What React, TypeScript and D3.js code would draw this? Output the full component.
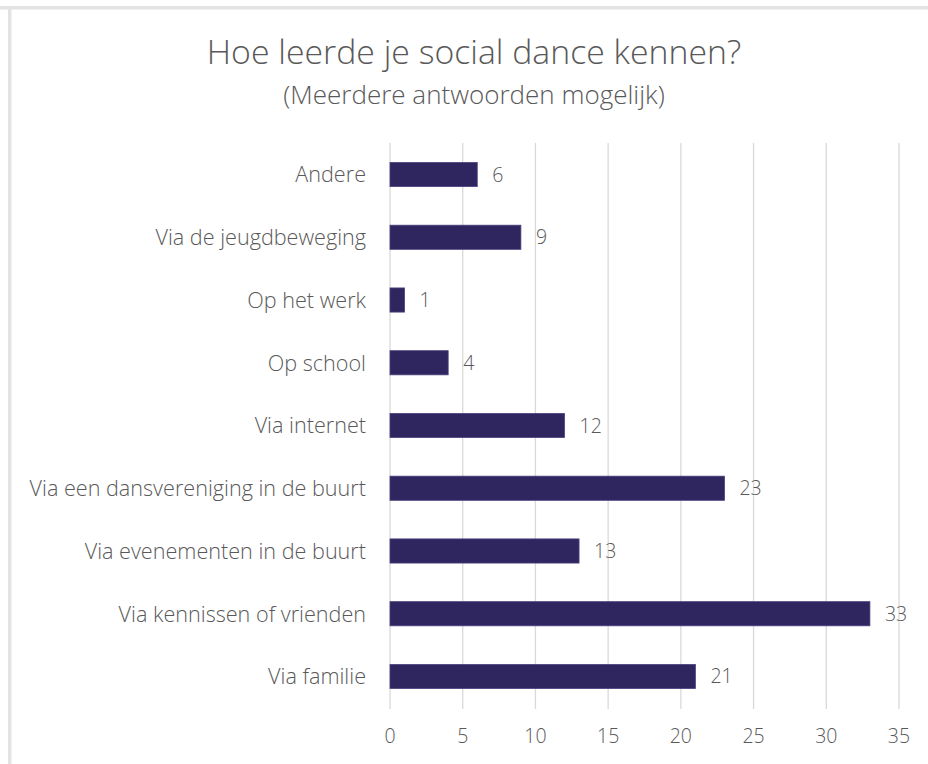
import React from "react";
import * as d3 from "d3";

const categories = [
  "Andere",
  "Via de jeugdbeweging",
  "Op het werk",
  "Op school",
  "Via internet",
  "Via een dansvereniging in de buurt",
  "Via evenementen in de buurt",
  "Via kennissen of vrienden",
  "Via familie",
];
const values = [6, 9, 1, 4, 12, 23, 13, 33, 21];
const xTicks = [0, 5, 10, 15, 20, 25, 30, 35];
const title = "Hoe leerde je social dance kennen?";
const subtitle = "(Meerdere antwoorden mogelijk)";

const W = 928;
const H = 764;
const FONT = "'Open Sans', 'Noto Sans', sans-serif";
const TEXT = "#595959";
const GRID = "#d9d9d9";
const BAR = "#2f2660";

export default function App() {
  const x = d3.scaleLinear().domain([0, 35]).range([390, 899]);
  const y = d3
    .scaleBand<string>()
    .domain(categories)
    .range([143, 708])
    .paddingInner(0.615)
    .paddingOuter(0.31);
  const yTop = 143;
  const yBot = 709;

  return (
    <svg
      width={W}
      height={H}
      style={{ position: "absolute", left: 0, top: 0, background: "#fff" }}
      fontFamily={FONT}
    >
      <rect x={0} y={0} width={W} height={H} fill="#fff" />
      {/* cut-off heading above the frame (only descender visible) */}
      <text x={306} y={-7} fontSize={30} fontWeight={700} fill="#2e2a78">
        y
      </text>
      {/* frame */}
      <rect x={0} y={6} width={W} height={3.5} fill="#e3e3e3" />
      <rect x={8} y={6} width={3.5} height={H - 6} fill="#e3e3e3" />

      <text x={474} y={64} textAnchor="middle" fontSize={33.8} fontWeight={300} fill={TEXT}>
        {title}
      </text>
      <text x={474} y={104} textAnchor="middle" fontSize={26} fontWeight={300} fill={TEXT}>
        {subtitle}
      </text>

      {xTicks.map((t) => (
        <g key={t}>
          <line x1={x(t)} x2={x(t)} y1={yTop} y2={yBot} stroke={GRID} strokeWidth={1.3} />
          <text x={x(t)} y={743} textAnchor="middle" fontSize={19.5} fontWeight={300} fill={TEXT}>
            {t}
          </text>
        </g>
      ))}

      {categories.map((c, i) => {
        const by = y(c)!;
        const bh = y.bandwidth();
        return (
          <g key={c}>
            <rect
              x={x(0)}
              y={by}
              width={x(values[i]) - x(0)}
              height={bh}
              fill={BAR}
              stroke="#4a4380"
              strokeWidth={0.8}
            />
            <text
              x={x(values[i]) + 15}
              y={by + bh / 2}
              dy="0.36em"
              fontSize={19.5}
              fontWeight={300}
              fill={TEXT}
            >
              {values[i]}
            </text>
            <text
              x={366}
              y={by + bh / 2}
              dy="0.36em"
              textAnchor="end"
              fontSize={21.6}
              fontWeight={300}
              fill={TEXT}
            >
              {c}
            </text>
          </g>
        );
      })}
    </svg>
  );
}
